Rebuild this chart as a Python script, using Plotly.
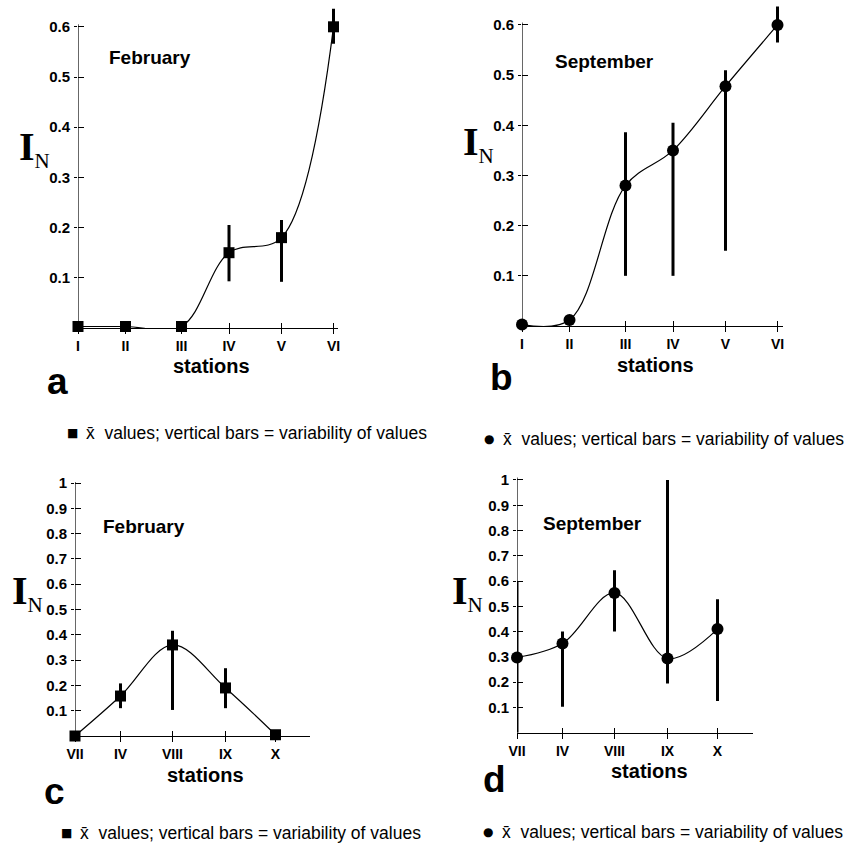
import plotly.graph_objects as go

# ---------------- data ----------------
stations_ab = ["I", "II", "III", "IV", "V", "VI"]
pos_ab = [0, 47.5, 103.5, 151, 203.5, 255.5]

feb_ab = [0.003, 0.003, 0.003, 0.15, 0.18, 0.60]
feb_ab_top = [0.003, 0.003, 0.003, 0.205, 0.215, 0.636]
feb_ab_bot = [0.003, 0.003, 0.003, 0.093, 0.092, 0.566]

sep_ab = [0.003, 0.012, 0.28, 0.35, 0.478, 0.60]
sep_ab_top = [0.003, 0.012, 0.386, 0.405, 0.51, 0.637]
sep_ab_bot = [0.003, 0.012, 0.10, 0.10, 0.15, 0.565]

stations_cd = ["VII", "IV", "VIII", "IX", "X"]
pos_cd = [0, 45.5, 97.5, 150.5, 200.5]

feb_cd = [0.0, 0.158, 0.36, 0.19, 0.005]
feb_cd_top = [0.0, 0.208, 0.416, 0.268, 0.005]
feb_cd_bot = [0.0, 0.11, 0.103, 0.11, 0.005]

sep_cd = [0.298, 0.353, 0.553, 0.294, 0.41]
sep_cd_top = [0.60, 0.40, 0.643, 1.0, 0.528]
sep_cd_bot = [0.0, 0.103, 0.40, 0.195, 0.125]

yticks_ab = [0.1, 0.2, 0.3, 0.4, 0.5, 0.6]
yticks_cd = [0.1, 0.2, 0.3, 0.4, 0.5, 0.6, 0.7, 0.8, 0.9, 1.0]
yticktext_ab = ["0.1", "0.2", "0.3", "0.4", "0.5", "0.6"]
yticktext_cd = ["0.1", "0.2", "0.3", "0.4", "0.5", "0.6", "0.7", "0.8", "0.9", "1"]

W, H = 851, 845
SANS = "Liberation Sans, Arial, sans-serif"
SERIF = "Liberation Serif, Times New Roman, serif"


def px_x(p):
    return p / W


def py_y(p):
    return 1 - p / H


# panel geometry (pixel based)
panels = [
    dict(name="a", pos=pos_ab, labels=stations_ab, y=feb_ab, top=feb_ab_top, bot=feb_ab_bot,
         symbol="square", xr=[0, 260], xdom=(78, 338), yr=[0, 0.65], ydom=(328, 1.7),
         yaxtop=0.605, yt=yticks_ab, ytt=yticktext_ab, month="February",
         month_xy=(107, 57), in_xy=(17, 148), st_xy=(211, 366), let_xy=(58, 381),
         leg_xy=(72, 433), leg_sym="■"),
    dict(name="b", pos=pos_ab, labels=stations_ab, y=sep_ab, top=sep_ab_top, bot=sep_ab_bot,
         symbol="circle", xr=[0, 261], xdom=(522, 783), yr=[0, 0.645], ydom=(326, 2.4),
         yaxtop=0.605, yt=yticks_ab, ytt=yticktext_ab, month="September",
         month_xy=(553, 62), in_xy=(461, 143), st_xy=(655, 365), let_xy=(501, 377),
         leg_xy=(489, 439), leg_sym="●"),
    dict(name="c", pos=pos_cd, labels=stations_cd, y=feb_cd, top=feb_cd_top, bot=feb_cd_bot,
         symbol="square", xr=[0, 235], xdom=(75, 310), yr=[0, 1.02], ydom=(736, 478),
         yaxtop=1.004, yt=yticks_cd, ytt=yticktext_cd, month="February",
         month_xy=(101, 526), in_xy=(10, 592), st_xy=(205, 775), let_xy=(54, 791),
         leg_xy=(66, 833), leg_sym="■"),
    dict(name="d", pos=pos_cd, labels=stations_cd, y=sep_cd, top=sep_cd_top, bot=sep_cd_bot,
         symbol="circle", xr=[0, 236], xdom=(517, 753), yr=[0, 1.03], ydom=(732.7, 472.4),
         yaxtop=1.01, yt=yticks_cd, ytt=yticktext_cd, month="September",
         month_xy=(541, 523), in_xy=(450, 592), st_xy=(649, 771), let_xy=(494, 779),
         leg_xy=(488, 832), leg_sym="●"),
]

fig = go.Figure()
layout = dict(
    width=W, height=H, margin=dict(l=0, r=0, t=0, b=0, autoexpand=False),
    paper_bgcolor="white", plot_bgcolor="white", showlegend=False,
)
annotations = []
shapes = []

for i, p in enumerate(panels):
    k = i + 1
    ko = i + 5
    xa = "x" if k == 1 else f"x{k}"
    ya = "y" if k == 1 else f"y{k}"
    err_plus = [t - v for t, v in zip(p["top"], p["y"])]
    err_minus = [v - b for v, b in zip(p["y"], p["bot"])]
    fig.add_trace(go.Scatter(
        x=p["pos"], y=p["y"], mode="lines+markers",
        line=dict(shape="spline", smoothing=1.0, color="black", width=1.2),
        marker=dict(symbol=p["symbol"], size=11 if p["symbol"] == "square" else 12, color="black"),
        error_y=dict(type="data", array=err_plus, arrayminus=err_minus, symmetric=False,
                     width=0, thickness=3, color="black"),
        xaxis=xa, yaxis=ya, cliponaxis=False, hoverinfo="skip",
    ))
    # dummy trace for overlay axes (crossing ticks)
    fig.add_trace(go.Scatter(x=[None], y=[None], xaxis=f"x{ko}", yaxis=f"y{ko}",
                             showlegend=False, hoverinfo="skip"))

    xdom = [px_x(p["xdom"][0]), px_x(p["xdom"][1])]
    ydom = [py_y(p["ydom"][0]), py_y(p["ydom"][1])]
    xtickfont = dict(family=SANS, size=14, color="black", weight="bold")
    ytickfont = dict(family=SANS, size=15, color="black", weight="bold")
    layout[f"xaxis{k}"] = dict(
        domain=xdom, range=p["xr"], anchor=ya, automargin=False,
        showgrid=False, zeroline=False, showline=True, linecolor="black", linewidth=1.2,
        tickmode="array", tickvals=p["pos"], ticktext=p["labels"],
        ticks="outside", ticklen=5, tickcolor="black", tickwidth=1,
        tickfont=xtickfont, ticklabelstandoff=0,
    )
    layout[f"yaxis{k}"] = dict(
        domain=ydom, range=p["yr"], anchor=xa, automargin=False,
        showgrid=False, zeroline=False, showline=False,
        tickmode="array", tickvals=p["yt"], ticktext=p["ytt"],
        ticks="outside", ticklen=3, tickcolor="black", tickwidth=1,
        tickfont=ytickfont, ticklabelstandoff=1,
    )
    layout[f"xaxis{ko}"] = dict(
        overlaying=xa, range=p["xr"], anchor=f"y{ko}", automargin=False,
        showgrid=False, zeroline=False, showline=False, showticklabels=False,
        tickmode="array", tickvals=p["pos"],
        ticks="inside", ticklen=5, tickcolor="black", tickwidth=1,
    )
    layout[f"yaxis{ko}"] = dict(
        overlaying=ya, range=p["yr"], anchor=f"x{ko}", automargin=False,
        showgrid=False, zeroline=False, showline=False, showticklabels=False,
        tickmode="array", tickvals=p["yt"],
        ticks="inside", ticklen=6, tickcolor="black", tickwidth=1,
    )
    # y-axis line
    shapes.append(dict(type="line", xref=xa, yref=ya, x0=0, x1=0, y0=0, y1=p["yaxtop"],
                       line=dict(color="black", width=1.2), layer="below"))

    # texts
    mx, my = p["month_xy"]
    annotations.append(dict(text=f"<b>{p['month']}</b>", x=px_x(mx), y=py_y(my),
                            xref="paper", yref="paper", xanchor="left", yanchor="middle",
                            showarrow=False, font=dict(family=SANS, size=19, color="black")))
    ix, iy = p["in_xy"]
    annotations.append(dict(text="<b>I</b><sub><span style='font-size:21px'>N</span></sub>",
                            x=px_x(ix), y=py_y(iy), xref="paper", yref="paper",
                            xanchor="left", yanchor="middle", showarrow=False,
                            font=dict(family=SERIF, size=40, color="black")))
    sx, sy = p["st_xy"]
    annotations.append(dict(text="<b>stations</b>", x=px_x(sx), y=py_y(sy),
                            xref="paper", yref="paper", xanchor="center", yanchor="middle",
                            showarrow=False, font=dict(family=SANS, size=20, color="black")))
    lx, ly = p["let_xy"]
    annotations.append(dict(text=f"<b>{p['name']}</b>", x=px_x(lx), y=py_y(ly),
                            xref="paper", yref="paper", xanchor="center", yanchor="middle",
                            showarrow=False, font=dict(family=SANS, size=37, color="black")))
    gx, gy = p["leg_xy"]
    annotations.append(dict(text=p["leg_sym"], x=px_x(gx), y=py_y(gy),
                            xref="paper", yref="paper", xanchor="center", yanchor="middle",
                            showarrow=False, font=dict(family="DejaVu Sans", size=12, color="black")))
    annotations.append(dict(text="x\u0304&nbsp; values; vertical bars = variability of values",
                            x=px_x(gx + 12), y=py_y(gy), xref="paper", yref="paper",
                            xanchor="left", yanchor="middle", showarrow=False,
                            font=dict(family=SANS, size=17.5, color="black")))

layout["annotations"] = annotations
layout["shapes"] = shapes
fig.update_layout(**layout)
fig.write_html("out.html", config={"displayModeBar": False},
               post_script="document.body.style.margin='0';")
